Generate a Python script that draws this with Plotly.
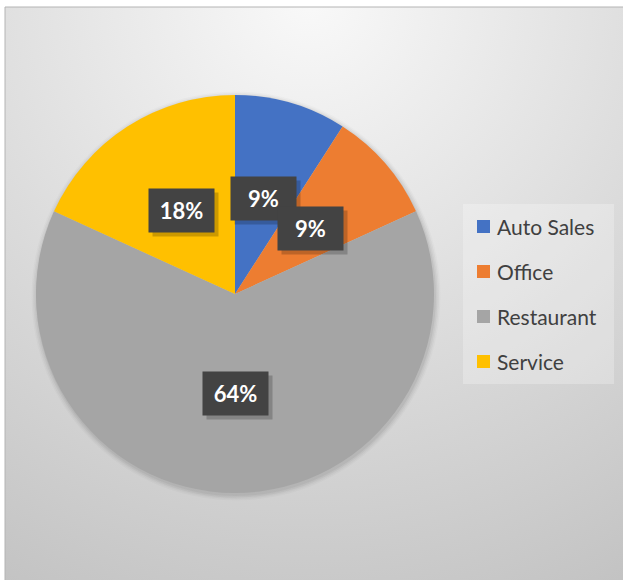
import math
import plotly.graph_objects as go

labels = ["Auto Sales", "Office", "Restaurant", "Service"]
values = [1, 1, 7, 2]
colors = ["#4472C4", "#ED7D31", "#A5A5A5", "#FFC000"]

W, H = 623, 580
ML, MT = 5, 7
PW, PH = W - ML, H - MT


def px(x):
    return (x - ML) / PW


def py(y):
    return 1 - (y - MT) / PH


# pie placement (pixels)
cx, cy, R = 235, 294, 199

bg_svg = (
    "<svg xmlns='http://www.w3.org/2000/svg' width='618' height='573'>"
    "<defs><radialGradient id='g' cx='305' cy='-10' r='660' gradientUnits='userSpaceOnUse'>"
    "<stop offset='0' stop-color='%23f9f9f9'/><stop offset='1' stop-color='%23c3c3c3'/>"
    "</radialGradient></defs><rect width='618' height='573' fill='url(%23g)'/></svg>"
)

fig = go.Figure()
fig.add_trace(go.Pie(
    labels=labels, values=values, sort=False, direction="clockwise", rotation=0,
    marker=dict(colors=colors, line=dict(width=0)),
    textinfo="none", hoverinfo="label+percent", showlegend=False,
    domain=dict(x=[px(cx - R), px(cx + R)], y=[py(cy + R), py(cy - R)]),
))

shapes = []
# soft shadow around pie
for i, a in enumerate([0.05, 0.04, 0.03, 0.02]):
    r = R + 1 + i * 1.5
    shapes.append(dict(type="circle", xref="paper", yref="paper", layer="below",
                       x0=px(cx - r + 1), x1=px(cx + r + 1), y0=py(cy + r + 2), y1=py(cy - r + 2),
                       fillcolor="rgba(0,0,0,%s)" % a, line=dict(width=0)))
# chart border (top and left edges only are visible)
shapes.append(dict(type="path", xref="paper", yref="paper", path="M 0 0 L 0 1 L 1 1",
                   line=dict(color="#b4b4b4", width=1)))
# legend box
shapes.append(dict(type="rect", xref="paper", yref="paper", layer="below",
                   x0=px(463), x1=px(614), y0=py(384), y1=py(204),
                   fillcolor="rgba(255,255,255,0.25)", line=dict(width=0)))

annotations = []
total = sum(values)
start = 0.0
for lab, v, c, k in zip(labels, values, colors, range(len(labels))):
    frac = v / total
    mid = (start + frac / 2) * 2 * math.pi
    start += frac
    lx = cx + 0.5 * R * math.sin(mid)
    ly = cy - 0.5 * R * math.cos(mid)
    txt = "%d%%" % round(frac * 100)
    # label shadow
    annotations.append(dict(x=px(lx), y=py(ly), xref="paper", yref="paper", text="",
                            showarrow=False, width=63, height=41, xshift=4, yshift=-4,
                            xanchor="center", yanchor="middle",
                            bgcolor="rgba(0,0,0,0.2)"))
    annotations.append(dict(x=px(lx), y=py(ly), xref="paper", yref="paper", text="<b>%s</b>" % txt,
                            showarrow=False, width=63, height=41, bgcolor="#434343",
                            xanchor="center", yanchor="middle",
                            font=dict(family="Lato", size=22, color="white")))
    # legend entry
    ey = 226 + 45 * k
    shapes.append(dict(type="rect", xref="paper", yref="paper",
                       x0=px(477), x1=px(490), y0=py(ey + 7), y1=py(ey - 6),
                       fillcolor=c, line=dict(width=0)))
    annotations.append(dict(x=px(495), y=py(ey), xref="paper", yref="paper", text=lab,
                            showarrow=False, xanchor="left", yanchor="middle",
                            font=dict(family="Lato", size=21, color="#404040")))

fig.update_layout(
    width=W, height=H,
    margin=dict(l=ML, r=0, t=MT, b=0),
    paper_bgcolor="white", plot_bgcolor="white",
    images=[dict(source="data:image/svg+xml;utf8," + bg_svg, xref="paper", yref="paper",
                 x=0, y=1, sizex=1, sizey=1, sizing="stretch", layer="below",
                 xanchor="left", yanchor="top")],
    shapes=shapes, annotations=annotations, showlegend=False,
)

fig.write_html("out.html", config={"displayModeBar": False},
               post_script="document.body.style.margin='0';")
